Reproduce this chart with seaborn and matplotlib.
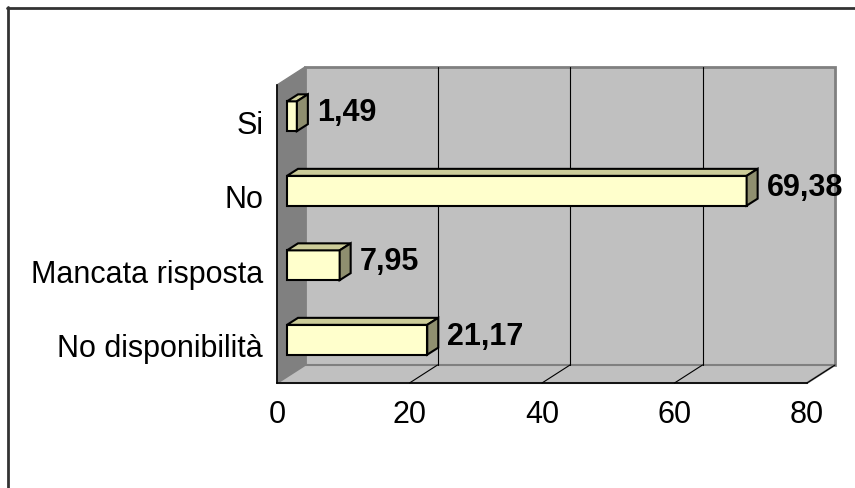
import matplotlib
matplotlib.use('Agg')
import matplotlib.pyplot as plt
import seaborn as sns
import pandas as pd
from matplotlib.patches import Polygon
from matplotlib.lines import Line2D

# data
categories = ['Si', 'No', 'Mancata risposta', 'No disponibilità']
values = [1.49, 69.38, 7.95, 21.17]
xticks = [0, 20, 40, 60, 80]

df = pd.DataFrame({'cat': categories, 'val': values})

W, H = 855, 488
sns.set_style('white')
plt.rcParams['font.family'] = ['Liberation Sans', 'DejaVu Sans']
plt.rcParams['text.color'] = 'black'
plt.rcParams['xtick.color'] = 'black'
plt.rcParams['ytick.color'] = 'black'
plt.rcParams['axes.labelcolor'] = 'black'
fig = plt.figure(figsize=(W / 100, H / 100), dpi=100)

# front plane of the 3d box, in pixels
x0px, x1px, ytop, ybot = 277, 807, 85, 383
ax = fig.add_axes([x0px / W, 1 - ybot / H, (x1px - x0px) / W, (ybot - ytop) / H])
ax.set_facecolor('none')

xmax = 80
ppx = (x1px - x0px) / xmax          # pixels per x unit
ppy = (ybot - ytop) / len(categories)  # pixels per category

def dx(p):
    return p / ppx

def dy(p):
    return p / ppy

# walls
DX, DY = 28, 18
lo, hi = len(categories) - 0.5, -0.5
wall_kw = dict(clip_on=False, zorder=0)
ax.add_patch(Polygon([(dx(DX), lo - dy(DY)), (xmax + dx(DX), lo - dy(DY)),
                      (xmax + dx(DX), hi - dy(DY)), (dx(DX), hi - dy(DY))],
                     closed=True, facecolor='#c0c0c0', edgecolor='#808080', lw=2, **wall_kw))
ax.add_patch(Polygon([(0, lo), (dx(DX), lo - dy(DY)), (dx(DX), hi - dy(DY)), (0, hi)],
                     closed=True, facecolor='#808080', edgecolor='#808080', lw=1, **wall_kw))
ax.add_patch(Polygon([(0, lo), (xmax, lo), (xmax + dx(DX), lo - dy(DY)), (dx(DX), lo - dy(DY))],
                     closed=True, facecolor='#c0c0c0', edgecolor='#808080', lw=1.5, **wall_kw))
for t in xticks[1:-1]:
    ax.plot([t + dx(DX)] * 2, [lo - dy(DY), hi - dy(DY)], color='black', lw=0.8, clip_on=False, zorder=1)
for t in xticks[1:]:
    ax.plot([t, t + dx(DX)], [lo, lo - dy(DY)], color='black', lw=0.8, clip_on=False, zorder=1)

# bars (front faces) shifted into the depth
sns.barplot(data=df, y='cat', x='val', orient='h', order=categories, width=0.4,
            color='#ffffcc', saturation=1, edgecolor='black', linewidth=1.5, ax=ax, zorder=3)

fx, fy = 10, 6   # front face offset
bx, by = 11, 7   # bar depth
for p, v in zip(ax.patches[-len(categories):], values):
    p.set_x(p.get_x() + dx(fx))
    p.set_y(p.get_y() - dy(fy))
    xa, xb = p.get_x(), p.get_x() + p.get_width()
    ya, yb = p.get_y(), p.get_y() + p.get_height()  # ya = top (inverted axis)
    ax.add_patch(Polygon([(xa, ya), (xb, ya), (xb + dx(bx), ya - dy(by)), (xa + dx(bx), ya - dy(by))],
                         closed=True, facecolor='#cccc99', edgecolor='black', lw=1.5, zorder=4, clip_on=False))
    ax.add_patch(Polygon([(xb, ya), (xb, yb), (xb + dx(bx), yb - dy(by)), (xb + dx(bx), ya - dy(by))],
                         closed=True, facecolor='#8f8f6f', edgecolor='black', lw=1.5, zorder=4, clip_on=False))
    ax.text(v + dx(30), (ya + yb) / 2 - dy(3), f'{v:.2f}'.replace('.', ','),
            ha='left', va='center', fontsize=22, fontweight='bold', color='black', clip_on=False, zorder=5)

ax.set_xlim(0, xmax)
ax.set_ylim(lo, hi)
ax.set_xticks(xticks)
ax.set_xticklabels([str(t) for t in xticks], fontsize=22)
ax.set_yticks([i - 0.5 for i in range(len(categories) + 1)])
ax.set_yticklabels([])
ax.set_yticks(range(len(categories)), labels=categories, minor=True, fontsize=22)
ax.tick_params(axis='y', which='minor', length=0, pad=10)
ax.tick_params(axis='both', which='major', length=4, width=1.2, color='black', direction='out')
ax.tick_params(axis='x', pad=8)
ax.set_xlabel('')
ax.set_ylabel('')
for s in ['top', 'right']:
    ax.spines[s].set_visible(False)
for s in ['left', 'bottom']:
    ax.spines[s].set_color('black')
    ax.spines[s].set_linewidth(1.2)
    ax.spines[s].set_zorder(6)

# outer frame (only top and left edges show)
fig.add_artist(Line2D([7 / W, 1], [1 - 7.5 / H] * 2, color='#333333', lw=2))
fig.add_artist(Line2D([7.5 / W] * 2, [1 - 7 / H, 0], color='#333333', lw=2))

fig.savefig('out.png', dpi=100)
